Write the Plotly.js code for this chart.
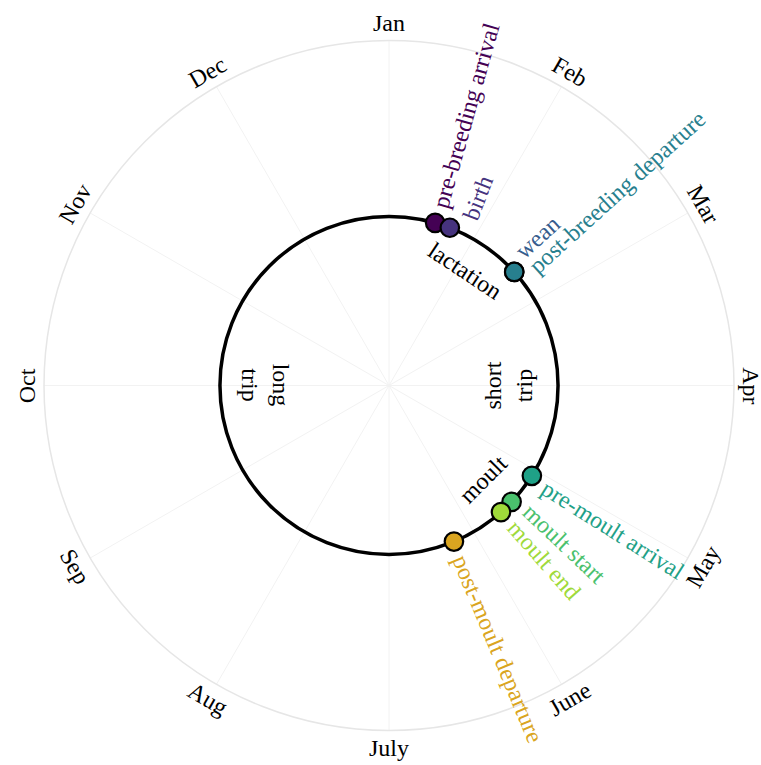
<!DOCTYPE html>
<html>
<head>
<meta charset="utf-8">
<script src="https://cdn.plot.ly/plotly-3.0.1.min.js"></script>
<style>html,body{margin:0;padding:0;background:#fff;}#chart{width:761px;height:765px;}</style>
</head>
<body>
<div id="chart"></div>
<script>
// ---- data ----
const months = ['Jan','Feb','Mar','Apr','May','June','July','Aug','Sep','Oct','Nov','Dec'];
const events = ['pre-breeding arrival','birth','wean','post-breeding departure','pre-moult arrival','moult start','moult end','post-moult departure'];
// event timing in months since 1 Jan
const eventMonth = [0.528, 0.703, 1.593, 1.593, 4.077, 4.45, 4.617, 5.247];
const eventColors = ['#440154','#46337E','#365C8D','#277F8E','#1FA187','#4AC16D','#9FDA3A','#DAA520'];
const labelNudgeDeg = [0, 4.2, -2.8, 2.0, 0.6, -1.3, -0.2, 0.2];
const phases = ['lactation','short<br>trip','moult','long<br>trip'];
const phaseMonth = [1.12, 3.0, 4.49, 9.0];
const phaseR = [0.40, 0.345, 0.385, 0.357];
const phaseAngle = [33.6, -90, -45, 90];
const trackR = 0.49;

// ---- geometry ----
const FW = 761, FH = 765;
const M = {l: 44, r: 27, t: 40, b: 34};
const PW = FW - M.l - M.r, PH = FH - M.t - M.b;
const RPX = Math.min(PW, PH) / 2;
const FONT = 'Liberation Serif, Times New Roman, serif';
const FS = 24;
const deg = m => m * 30;

const ctx = document.createElement('canvas').getContext('2d');
ctx.font = FS + "px 'Liberation Serif'";
const textW = s => ctx.measureText(s).width;

function toPaper(rpx, thDeg) {
  const t = thDeg * Math.PI / 180;
  return {x: 0.5 + rpx * Math.sin(t) / PW, y: 0.5 + rpx * Math.cos(t) / PH};
}
function tangAngle(th) {
  th = ((th % 360) + 360) % 360;
  if (th <= 90) return th;
  if (th < 270) return th - 180;
  return th - 360;
}

const annotations = [];
// month labels
months.forEach((m, i) => {
  const th = i * 30;
  const p = toPaper(RPX * 1.05, th);
  annotations.push({xref: 'paper', yref: 'paper', x: p.x, y: p.y, text: m, showarrow: false,
    xanchor: 'center', yanchor: 'middle', textangle: tangAngle(th), borderpad: 0,
    font: {family: FONT, size: FS, color: '#000'}});
});
// event labels (radial)
events.forEach((e, i) => {
  const thP = deg(eventMonth[i]);
  const thL = thP + labelNudgeDeg[i];
  const rc = 185 + textW(e) / 2;
  const p = toPaper(rc, thL);
  annotations.push({xref: 'paper', yref: 'paper', x: p.x, y: p.y, text: e, showarrow: false,
    xanchor: 'center', yanchor: 'middle', textangle: thP - 90,
    font: {family: FONT, size: FS, color: eventColors[i]}});
});
// phase labels
phases.forEach((s, i) => {
  const p = toPaper(RPX * phaseR[i], deg(phaseMonth[i]));
  annotations.push({xref: 'paper', yref: 'paper', x: p.x, y: p.y, text: s, showarrow: false,
    xanchor: 'center', yanchor: 'middle', textangle: phaseAngle[i],
    font: {family: FONT, size: FS, color: '#000'}});
});

const traces = events.map((e, i) => ({
  type: 'scatterpolar', mode: 'markers', name: e,
  r: [trackR], theta: [deg(eventMonth[i])],
  marker: {size: 18.5, color: eventColors[i], line: {color: '#000', width: 2.2}},
  hoverinfo: 'text', text: [e]
}));

const layout = {
  width: FW, height: FH, showlegend: false,
  margin: M, paper_bgcolor: '#fff',
  polar: {
    domain: {x: [0, 1], y: [0, 1]},
    bgcolor: '#fff',
    radialaxis: {range: [0, 1], tickvals: [trackR], showticklabels: false, ticks: '',
      showline: false, showgrid: true, gridcolor: '#000', gridwidth: 3.5},
    angularaxis: {rotation: 90, direction: 'clockwise', thetaunit: 'degrees',
      tickvals: months.map((m, i) => i * 30), ticktext: months, showticklabels: false, ticks: '',
      showline: true, linecolor: '#e6e6e6', linewidth: 1.5,
      showgrid: true, gridcolor: '#f2f2f2', gridwidth: 1}
  },
  annotations: annotations
};

Plotly.newPlot('chart', traces, layout, {displayModeBar: false, staticPlot: true});
</script>
</body>
</html>
